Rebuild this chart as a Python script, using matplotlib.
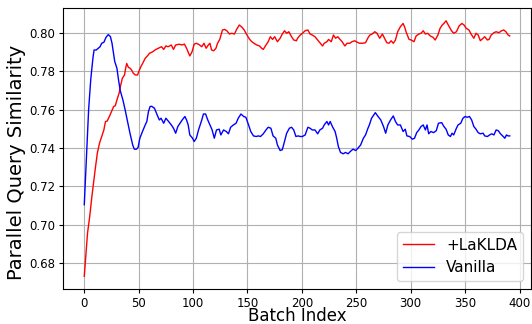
import matplotlib.pyplot as plt

# +LaKLDA series
lakl_x = [0, 2, 3, 5, 7, 8.5, 10, 12, 14, 16, 18, 19.5, 21, 23, 25, 27, 28.5, 30, 32, 33.5,
          35, 37, 38, 39, 40.5, 42, 43.5, 45, 47, 49, 50, 52, 54, 56, 58, 60, 63, 65, 68,
          71, 73, 75, 77, 80, 82, 84, 87, 90, 92, 94, 96, 97, 99, 101, 103, 105.5, 108,
          110, 112, 114, 115.5, 117, 119, 121, 122.5, 124.5, 127, 129, 131, 133.5, 135.5,
          138, 140, 142.5, 145, 147, 149, 152, 154, 156, 158.5, 161, 163, 164.5, 167, 169,
          171, 173, 175, 177.5, 180, 182, 184, 186, 188, 190.5, 192.5, 195, 196, 198.5,
          200.5, 203, 205.5, 207.5, 209.5, 212, 214.5, 216.5, 219, 220.5, 223, 224.5, 227,
          229, 231, 233, 235, 237, 239.5, 241.5, 244, 246, 248.5, 251, 253, 256, 258.5,
          261, 262.5, 264.5, 267, 269, 271.5, 274, 276, 278, 280, 282, 284, 286, 288, 290.5,
          293, 294.5, 296, 298.5, 300.5, 303, 305, 307.5, 309.5, 311.5, 313.5, 315.5, 318,
          320.5, 322.5, 325, 327, 329, 330.5, 332.5, 335, 337.5, 339.5, 342, 344.5, 347,
          349, 351, 353.5, 355.5, 358, 360, 362, 364, 366.5, 368, 370.5, 372, 374, 376.5,
          378.5, 381, 383.5, 385.5, 387.5, 389.5, 391]
lakl_y = [0.6733, 0.6888, 0.6958, 0.7044, 0.7148, 0.7217, 0.7287, 0.7373, 0.7425, 0.7460,
          0.7494, 0.7538, 0.7540, 0.7563, 0.7590, 0.7616, 0.7620, 0.7650, 0.7685, 0.7728,
          0.7763, 0.7780, 0.7815, 0.7840, 0.7820, 0.7815, 0.7806, 0.7789, 0.7780, 0.7780,
          0.7797, 0.7823, 0.7844, 0.7867, 0.7879, 0.7893, 0.7901, 0.7910, 0.7919, 0.7927,
          0.7913, 0.7931, 0.7927, 0.7936, 0.7913, 0.7936, 0.7940, 0.7936, 0.7941, 0.7919,
          0.7893, 0.7879, 0.7900, 0.7940, 0.7945, 0.7938, 0.7927, 0.7945, 0.7919, 0.7936,
          0.7945, 0.7910, 0.7906, 0.7919, 0.7945, 0.7965, 0.8014, 0.8017, 0.8010, 0.7993,
          0.7997, 0.7993, 0.8017, 0.8040, 0.8028, 0.8014, 0.7993, 0.7965, 0.7953, 0.7945,
          0.7936, 0.7931, 0.7919, 0.7913, 0.7936, 0.7953, 0.7979, 0.7965, 0.7979, 0.7953,
          0.7971, 0.7993, 0.8010, 0.7997, 0.8005, 0.7979, 0.7962, 0.7958, 0.7971, 0.7988,
          0.7997, 0.8010, 0.8014, 0.7993, 0.7988, 0.7979, 0.7962, 0.7948, 0.7931, 0.7945,
          0.7953, 0.7965, 0.7953, 0.7988, 0.7971, 0.7979, 0.7965, 0.7953, 0.7931, 0.7945,
          0.7945, 0.7953, 0.7958, 0.7950, 0.7945, 0.7945, 0.7948, 0.7976, 0.7988, 0.7993,
          0.8005, 0.7997, 0.7971, 0.7993, 0.7971, 0.7948, 0.7945, 0.7958, 0.7945, 0.7962,
          0.8005, 0.8031, 0.8048, 0.8028, 0.8000, 0.7965, 0.7962, 0.7953, 0.7983, 0.7993,
          0.7997, 0.8010, 0.7993, 0.7997, 0.7983, 0.7976, 0.7962, 0.7988, 0.8023, 0.8040,
          0.8048, 0.8062, 0.8035, 0.8010, 0.7997, 0.8005, 0.8035, 0.8048, 0.8040, 0.8023,
          0.8014, 0.7993, 0.7971, 0.7997, 0.7988, 0.7958, 0.7971, 0.7979, 0.7962, 0.7965,
          0.7988, 0.8000, 0.8005, 0.8000, 0.8010, 0.8014, 0.8005, 0.7988, 0.7983]

# Vanilla series
van_x = [0, 2, 4, 6, 8, 9, 11, 13, 14.5, 16, 18, 20, 22, 24, 25.5, 27, 28, 30, 31.5, 33,
         35.5, 37.5, 39.5, 42, 44.5, 46, 48, 49.5, 51, 53.5, 56, 57.5, 59, 60.5, 62, 64.5,
         67, 69, 70.5, 73, 75, 77.5, 80, 82, 84, 86, 88, 90, 92.5, 94, 95.5, 97, 99.5, 101,
         103, 105, 106.5, 108, 109.5, 111.5, 113.5, 115.5, 117.5, 119.5, 121.5, 124, 125.5,
         128, 130.5, 132.5, 134.5, 137, 139.5, 141.5, 144, 146.5, 148.5, 151, 153, 155.5,
         158, 160, 162, 164.5, 167, 169, 171.5, 173.5, 176, 177.5, 180, 182, 184, 186,
         188.5, 190.5, 192.5, 194.5, 196.5, 198.5, 200.5, 203, 205.5, 207.5, 209.5, 212,
         214.5, 216.5, 219, 220.5, 223, 224.5, 226, 228, 230.5, 232, 233.5, 235.5, 238,
         240, 242.5, 244.5, 247, 249.5, 251.5, 254, 256.5, 258.5, 260.5, 262, 264, 265.5,
         267.5, 270, 272.5, 275, 277, 279, 281.5, 284, 286, 288, 290.5, 293, 295, 296.5,
         299, 301.5, 303.5, 305.5, 307.5, 309.5, 311.5, 313.5, 315, 316.5, 318.5, 321,
         323.5, 325.5, 328.5, 330.5, 332.5, 334.5, 336.5, 338, 339.5, 342, 343.5, 346,
         348, 350, 352, 354, 356, 358, 360, 362, 364, 366.5, 368, 370.5, 372.5, 374.5,
         376.5, 378.5, 380.5, 382.5, 384.5, 386.5, 388, 389.5, 391]
van_y = [0.7105, 0.7350, 0.7600, 0.7760, 0.7870, 0.7910, 0.7910, 0.7920, 0.7927, 0.7945,
         0.7950, 0.7976, 0.7990, 0.7980, 0.7945, 0.7890, 0.7850, 0.7815, 0.7754, 0.7700,
         0.7650, 0.7600, 0.7546, 0.7477, 0.7416, 0.7394, 0.7394, 0.7404, 0.7450, 0.7486,
         0.7520, 0.7538, 0.7590, 0.7616, 0.7617, 0.7607, 0.7572, 0.7546, 0.7555, 0.7529,
         0.7555, 0.7538, 0.7520, 0.7503, 0.7477, 0.7512, 0.7529, 0.7546, 0.7564, 0.7546,
         0.7520, 0.7468, 0.7451, 0.7434, 0.7451, 0.7494, 0.7520, 0.7546, 0.7577, 0.7577,
         0.7546, 0.7520, 0.7494, 0.7451, 0.7494, 0.7498, 0.7468, 0.7494, 0.7486, 0.7474,
         0.7508, 0.7520, 0.7529, 0.7555, 0.7577, 0.7564, 0.7560, 0.7520, 0.7486, 0.7463,
         0.7460, 0.7463, 0.7460, 0.7474, 0.7494, 0.7508, 0.7503, 0.7463, 0.7451, 0.7416,
         0.7387, 0.7391, 0.7434, 0.7477, 0.7503, 0.7508, 0.7494, 0.7460, 0.7463, 0.7460,
         0.7460, 0.7468, 0.7508, 0.7503, 0.7494, 0.7494, 0.7474, 0.7494, 0.7503, 0.7520,
         0.7538, 0.7520, 0.7538, 0.7512, 0.7486, 0.7451, 0.7408, 0.7377, 0.7370, 0.7377,
         0.7370, 0.7382, 0.7394, 0.7387, 0.7399, 0.7416, 0.7451, 0.7468, 0.7500, 0.7520,
         0.7555, 0.7567, 0.7584, 0.7564, 0.7546, 0.7512, 0.7477, 0.7520, 0.7546, 0.7567,
         0.7538, 0.7520, 0.7520, 0.7486, 0.7498, 0.7463, 0.7460, 0.7446, 0.7451, 0.7480,
         0.7494, 0.7512, 0.7520, 0.7494, 0.7520, 0.7474, 0.7486, 0.7480, 0.7490, 0.7529,
         0.7532, 0.7512, 0.7498, 0.7468, 0.7460, 0.7477, 0.7468, 0.7503, 0.7520, 0.7529,
         0.7555, 0.7564, 0.7560, 0.7564, 0.7546, 0.7512, 0.7498, 0.7480, 0.7474, 0.7477,
         0.7463, 0.7460, 0.7468, 0.7474, 0.7468, 0.7494, 0.7490, 0.7474, 0.7463, 0.7451,
         0.7468, 0.7463, 0.7463]

fig = plt.figure(figsize=(5.32, 3.24), dpi=100)
ax = fig.add_axes([63 / 532, 35 / 324, 468 / 532, 281 / 324])

ax.plot(lakl_x, lakl_y, color='red', linewidth=1.0, label='+LaKLDA')
ax.plot(van_x, van_y, color='blue', linewidth=1.0, label='Vanilla')

ax.set_xlabel('Batch Index', fontsize=12, labelpad=-2)
ax.set_ylabel('Parallel Query Similarity', fontsize=14)
ax.yaxis.set_label_coords(-0.079, 0.45)
ax.tick_params(labelsize=8.5, length=3, pad=2.5)
ax.grid(True)
ax.legend(loc='lower right', fontsize=11)

plt.savefig('out.png', dpi=100)
